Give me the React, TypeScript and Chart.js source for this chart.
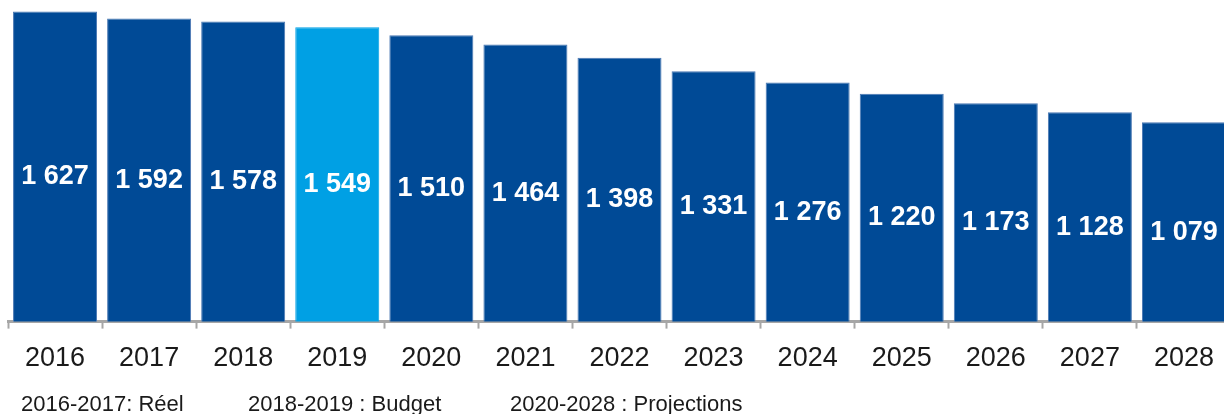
import { useEffect, useRef } from "react";
import { Chart, registerables } from "chart.js";

Chart.register(...registerables);

const years = ["2016", "2017", "2018", "2019", "2020", "2021", "2022", "2023", "2024", "2025", "2026", "2027", "2028"];
const values = [1627, 1592, 1578, 1549, 1510, 1464, 1398, 1331, 1276, 1220, 1173, 1128, 1079];
const highlightYear = "2019";
const footnotes = ["2016-2017: Réel", "2018-2019 : Budget", "2020-2028 : Projections"];

const FONT = "'Liberation Sans', Arial, Helvetica, sans-serif";
const DARK = "#004A96";
const LIGHT = "#00A0E4";

const fmt = (v: number) => {
  const s = String(v);
  return s.length > 3 ? s.slice(0, s.length - 3) + " " + s.slice(s.length - 3) : s;
};

const barLabels = {
  id: "barLabels",
  afterDatasetsDraw(chart: any) {
    const ctx = chart.ctx;
    const meta = chart.getDatasetMeta(0);
    ctx.save();
    ctx.fillStyle = "#ffffff";
    ctx.font = `bold 27px ${FONT}`;
    ctx.textAlign = "center";
    ctx.textBaseline = "middle";
    meta.data.forEach((el: any, i: number) => {
      const v = chart.data.datasets[0].data[i] as number;
      ctx.fillText(fmt(v), el.x, (el.y + el.base) / 2 + 1);
    });
    ctx.restore();
  },
};

export default function App() {
  const ref = useRef<HTMLCanvasElement | null>(null);
  useEffect(() => {
    if (!ref.current) return;
    const chart = new Chart(ref.current, {
      type: "bar",
      data: {
        labels: years,
        datasets: [
          {
            data: values,
            backgroundColor: years.map((y) => (y === highlightYear ? LIGHT : DARK)),
            borderColor: years.map((y) => (y === highlightYear ? LIGHT : "#4a78b3")),
            borderWidth: 1,
            categoryPercentage: 1,
            barPercentage: 0.893,
          },
        ],
      },
      options: {
        animation: false,
        responsive: false,
        devicePixelRatio: 1,
        events: [],
        layout: { padding: { left: 8, right: 9, top: 0, bottom: 26 } },
        plugins: { legend: { display: false }, tooltip: { enabled: false } },
        scales: {
          y: { display: false, min: 92, max: 1684 },
          x: {
            grid: {
              display: true,
              drawOnChartArea: false,
              drawTicks: true,
              tickLength: 7,
              tickWidth: 2,
              tickColor: "#a6a6a6",
              offset: true,
            },
            border: { display: true, color: "#a6a6a6", width: 3 },
            ticks: {
              color: "#1a1a1a",
              font: { family: FONT, size: 27 },
              padding: 13.5,
              maxRotation: 0,
              autoSkip: false,
            },
          },
        },
      },
      plugins: [barLabels],
    });
    return () => chart.destroy();
  }, []);

  const noteStyle = (left: number): any => ({
    position: "absolute",
    left,
    top: 393,
    fontFamily: FONT,
    fontSize: 22,
    lineHeight: "22px",
    color: "#1a1a1a",
    whiteSpace: "nowrap",
  });

  return (
    <div
      style={{
        position: "fixed",
        left: 0,
        top: 0,
        width: 1224,
        height: 414,
        overflow: "hidden",
        background: "#ffffff",
      }}
    >
      <canvas ref={ref} width={1240} height={414} style={{ display: "block", width: 1240, height: 414 }} />
      <span style={noteStyle(21)}>{footnotes[0]}</span>
      <span style={noteStyle(248)}>{footnotes[1]}</span>
      <span style={noteStyle(510)}>{footnotes[2]}</span>
    </div>
  );
}
